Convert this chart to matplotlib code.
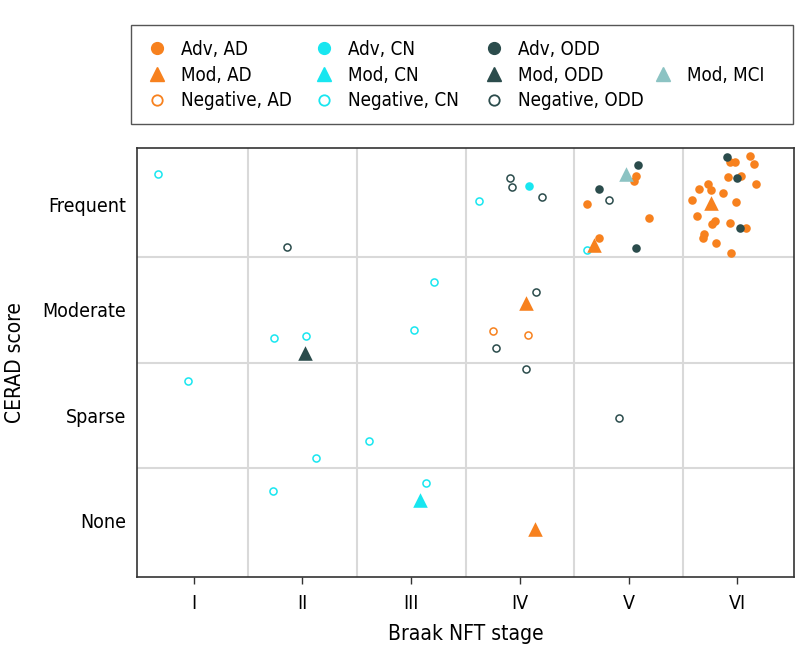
import numpy as np
import matplotlib as mpl
mpl.use("Agg")
import matplotlib.pyplot as plt
from matplotlib.lines import Line2D
from matplotlib.patches import Rectangle

plt.rcParams['font.family'] = ['DejaVu Sans']
plt.rcParams['font.stretch'] = 'condensed'
plt.rcParams['font.size'] = 14

# colours
c_ad  = '#F7811E'
c_cn  = '#18E6F0'
c_odd = '#2B4C4C'
c_mci = '#8CC3C3'
c_grid = '#D9D9D9'

stage_labels = ['I', 'II', 'III', 'IV', 'V', 'VI']
cerad_labels = ['None', 'Sparse', 'Moderate', 'Frequent']

# Braak stage (x, jittered) and CERAD score (y, jittered) per group
adv_ad_x = [5.07, 5.05, 4.62, 5.19, 4.73,
            6.12, 6.15, 5.93, 5.98, 6.03, 5.91, 6.17, 5.73, 5.65, 5.76, 5.87,
            5.58, 5.99, 5.63, 5.79, 5.77, 5.93, 6.08, 5.69, 5.68, 5.80, 5.94]
adv_ad_y = [3.27, 3.23, 3.01, 2.87, 2.68,
            3.46, 3.39, 3.41, 3.41, 3.27, 3.26, 3.20, 3.20, 3.15, 3.14, 3.11,
            3.05, 3.03, 2.89, 2.85, 2.82, 2.83, 2.78, 2.72, 2.68, 2.64, 2.54]
mod_ad_x = [4.68, 5.76, 4.06, 4.14]
mod_ad_y = [2.62, 3.02, 2.07, -0.08]
neg_ad_x = [3.75, 4.07]
neg_ad_y = [1.80, 1.76]

adv_cn_x = [4.08]
adv_cn_y = [3.18]
mod_cn_x = [3.08]
mod_cn_y = [0.19]
neg_cn_x = [0.67, 3.62, 4.62, 3.21, 1.74, 2.03, 3.03, 0.95, 2.13, 2.61, 1.73, 3.14]
neg_cn_y = [3.29, 3.04, 2.57, 2.27, 1.73, 1.75, 1.81, 1.32, 0.59, 0.75, 0.28, 0.35]

adv_odd_x = [5.09, 4.73, 5.07, 5.90, 6.00, 6.02]
adv_odd_y = [3.38, 3.15, 2.59, 3.45, 3.25, 2.78]
mod_odd_x = [2.02]
mod_odd_y = [1.59]
neg_odd_x = [1.86, 3.91, 3.93, 4.20, 4.82, 4.15, 3.78, 4.06, 4.91]
neg_odd_y = [2.60, 3.25, 3.17, 3.07, 3.05, 2.17, 1.64, 1.44, 0.97]

mod_mci_x = [4.98]
mod_mci_y = [3.29]

fig = plt.figure(figsize=(7.98, 6.62), dpi=100)
ax = fig.add_axes([137/798, 1-577/662, (794-137)/798, (577-148)/662])

# grid between categories
for xv in np.arange(1.5, 6.0, 1.0):
    ax.axvline(xv, color=c_grid, lw=1.5, zorder=0)
for yv in np.arange(0.5, 3.0, 1.0):
    ax.axhline(yv, color=c_grid, lw=1.5, zorder=0)

open_kw = dict(s=26, facecolors='white', linewidths=1.1, zorder=3)
ax.scatter(neg_cn_x, neg_cn_y, edgecolors=c_cn, **open_kw)
ax.scatter(neg_odd_x, neg_odd_y, edgecolors=c_odd, **open_kw)
ax.scatter(neg_ad_x, neg_ad_y, edgecolors=c_ad, **open_kw)

ax.scatter(adv_ad_x, adv_ad_y, s=38, color=c_ad, linewidths=0, zorder=4)
ax.scatter(adv_cn_x, adv_cn_y, s=38, color=c_cn, linewidths=0, zorder=4)
ax.scatter(adv_odd_x, adv_odd_y, s=38, color=c_odd, linewidths=0, zorder=4)

tri_kw = dict(s=110, marker='^', linewidths=0, zorder=5)
ax.scatter(mod_ad_x, mod_ad_y, color=c_ad, **tri_kw)
ax.scatter(mod_cn_x, mod_cn_y, color=c_cn, **tri_kw)
ax.scatter(mod_odd_x, mod_odd_y, color=c_odd, **tri_kw)
ax.scatter(mod_mci_x, mod_mci_y, color=c_mci, **tri_kw)

ax.set_xlim(0.48, 6.52)
ax.set_ylim(-0.54, 3.54)
ax.set_xticks(range(1, 7))
ax.set_xticklabels(stage_labels)
ax.set_yticks(range(4))
ax.set_yticklabels(cerad_labels)
ax.tick_params(axis='x', length=5, width=1, color='#333333', pad=7)
ax.tick_params(axis='y', length=0, pad=8)
for sp in ax.spines.values():
    sp.set_color('#333333')
    sp.set_linewidth(1.2)
ax.set_xlabel('Braak NFT stage', fontsize=15, labelpad=8)
ax.set_ylabel('CERAD score', fontsize=15, labelpad=12)

# legend: frame plus four fixed columns
fig.patches.append(Rectangle((131/798, 1-124/662), (793-131)/798, 99/662,
                             transform=fig.transFigure, fill=False,
                             edgecolor='#555555', lw=1.0))

def h_fill(c):
    return Line2D([], [], ls='none', marker='o', ms=8.5, color=c, mec=c)

def h_tri(c):
    return Line2D([], [], ls='none', marker='^', ms=10, color=c, mec=c)

def h_open(c):
    return Line2D([], [], ls='none', marker='o', ms=7.5, mfc='white', mec=c, mew=1.3)

blank = Line2D([], [], ls='none')
columns = [
    ([h_fill(c_ad), h_tri(c_ad), h_open(c_ad)], ['Adv, AD', 'Mod, AD', 'Negative, AD']),
    ([h_fill(c_cn), h_tri(c_cn), h_open(c_cn)], ['Adv, CN', 'Mod, CN', 'Negative, CN']),
    ([h_fill(c_odd), h_tri(c_odd), h_open(c_odd)], ['Adv, ODD', 'Mod, ODD', 'Negative, ODD']),
    ([blank, h_tri(c_mci), blank], ['', 'Mod, MCI', '']),
]
col_x = [148, 315, 485, 654]
for (hs, ls), xpix in zip(columns, col_x):
    fig.legend(hs, ls, loc='upper left', bbox_to_anchor=(xpix/798, 1-40/662),
               frameon=False, handlelength=1.0, handletextpad=0.75,
               labelspacing=0.35, borderpad=0, borderaxespad=0, fontsize=13.5)

fig.savefig('out.png', dpi=100)
